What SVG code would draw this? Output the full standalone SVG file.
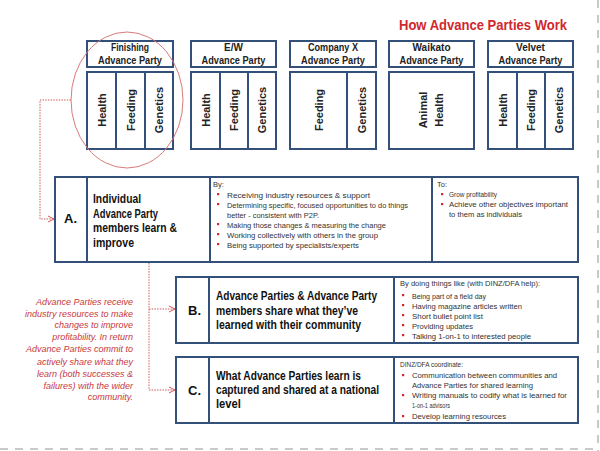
<svg xmlns="http://www.w3.org/2000/svg" width="600" height="451" viewBox="0 0 600 451">
<defs>
<style>
.box{fill:#fff;stroke:#33507a;stroke-width:2}
.div{stroke:#33507a;stroke-width:2}
.hdr{font-family:"Liberation Sans",Arial,sans-serif;font-weight:bold;font-size:10px;fill:#222;text-anchor:middle}
.col{font-family:"Liberation Sans",Arial,sans-serif;font-weight:bold;font-size:11px;fill:#222;text-anchor:middle}
.lbl{font-family:"Liberation Sans",Arial,sans-serif;font-weight:bold;font-size:13px;fill:#111}
.big{font-family:"Liberation Sans",Arial,sans-serif;font-weight:bold;font-size:13px;fill:#111}
.sm{font-family:"Liberation Sans",Arial,sans-serif;font-size:7.5px;fill:#333}
.bul{fill:#d0282e}
.note{font-family:"Liberation Sans",Arial,sans-serif;font-style:italic;font-size:9px;fill:#c8383c;text-anchor:end}
.con{fill:none;stroke:#d45a5a;stroke-width:1;stroke-dasharray:1.5 1.2}
.edge{fill:none;stroke:#b8b8b8;stroke-width:1.5;stroke-dasharray:8 7}
</style>
<marker id="arr" viewBox="0 0 8 8" refX="7" refY="4" markerWidth="8" markerHeight="8" markerUnits="userSpaceOnUse" orient="auto">
<path d="M1,1 L7,4 L1,7" fill="none" stroke="#d45a5a" stroke-width="1"/>
</marker>
</defs>
<rect width="600" height="451" fill="#fff"/>
<line class="edge" x1="598" y1="0" x2="598" y2="451"/>
<line class="edge" x1="0" y1="449" x2="598" y2="449"/>

<text x="483" y="30" text-anchor="middle" font-family="'Liberation Sans',Arial,sans-serif" font-weight="bold" font-size="15" fill="#d0282e" textLength="168" lengthAdjust="spacingAndGlyphs">How Advance Parties Work</text>

<g id="finishing">
<rect class="box" x="87" y="41" width="86" height="26"/>
<text class="hdr" x="130" y="51" textLength="38" lengthAdjust="spacingAndGlyphs">Finishing</text>
<text class="hdr" x="130" y="64" textLength="64" lengthAdjust="spacingAndGlyphs">Advance Party</text>
<rect class="box" x="87" y="72" width="86" height="77"/>
<line class="div" x1="116" y1="72" x2="116" y2="149"/>
<line class="div" x1="145" y1="72" x2="145" y2="149"/>
<text class="col" transform="translate(105.5,110) rotate(-90)">Health</text>
<text class="col" transform="translate(134.5,110) rotate(-90)">Feeding</text>
<text class="col" transform="translate(163,110) rotate(-90)">Genetics</text>
</g>

<g id="ew">
<rect class="box" x="191" y="41" width="85" height="26"/>
<text class="hdr" x="233.5" y="51">E/W</text>
<text class="hdr" x="233.5" y="64" textLength="64" lengthAdjust="spacingAndGlyphs">Advance Party</text>
<rect class="box" x="191" y="72" width="85" height="77"/>
<line class="div" x1="220" y1="72" x2="220" y2="149"/>
<line class="div" x1="248" y1="72" x2="248" y2="149"/>
<text class="col" transform="translate(209.5,110) rotate(-90)">Health</text>
<text class="col" transform="translate(238,110) rotate(-90)">Feeding</text>
<text class="col" transform="translate(266,110) rotate(-90)">Genetics</text>
</g>

<g id="companyx">
<rect class="box" x="290" y="41" width="86" height="26"/>
<text class="hdr" x="333" y="51" textLength="50" lengthAdjust="spacingAndGlyphs">Company X</text>
<text class="hdr" x="333" y="64" textLength="64" lengthAdjust="spacingAndGlyphs">Advance Party</text>
<rect class="box" x="290" y="72" width="86" height="77"/>
<line class="div" x1="347" y1="72" x2="347" y2="149"/>
<text class="col" transform="translate(322.5,110) rotate(-90)">Feeding</text>
<text class="col" transform="translate(365.5,110) rotate(-90)">Genetics</text>
</g>

<g id="waikato">
<rect class="box" x="389" y="41" width="85" height="26"/>
<text class="hdr" x="431.5" y="51">Waikato</text>
<text class="hdr" x="431.5" y="64" textLength="64" lengthAdjust="spacingAndGlyphs">Advance Party</text>
<rect class="box" x="389" y="72" width="85" height="77"/>
<text class="col" transform="translate(427,110) rotate(-90)">Animal</text>
<text class="col" transform="translate(443,110) rotate(-90)">Health</text>
</g>

<g id="velvet">
<rect class="box" x="488" y="41" width="85" height="26"/>
<text class="hdr" x="530.5" y="51">Velvet</text>
<text class="hdr" x="530.5" y="64" textLength="64" lengthAdjust="spacingAndGlyphs">Advance Party</text>
<rect class="box" x="488" y="72" width="85" height="77"/>
<line class="div" x1="517" y1="72" x2="517" y2="149"/>
<line class="div" x1="545" y1="72" x2="545" y2="149"/>
<text class="col" transform="translate(506.5,110) rotate(-90)">Health</text>
<text class="col" transform="translate(535,110) rotate(-90)">Feeding</text>
<text class="col" transform="translate(563,110) rotate(-90)">Genetics</text>
</g>

<g id="highlight">
<ellipse cx="127" cy="100" rx="56" ry="68" fill="none" stroke="#d87a7a" stroke-width="1"/>
</g>

<g id="connectors">
<path class="con" d="M71,100 H40 V219 H54" marker-end="url(#arr)"/>
<path class="con" d="M149,263 V390 H175" marker-end="url(#arr)"/>
<path class="con" d="M149,309 H175" marker-end="url(#arr)"/>
</g>

<g id="boxA">
<rect class="box" x="55" y="177" width="523" height="85"/>
<line class="div" x1="87" y1="177" x2="87" y2="262"/>
<line class="div" x1="210" y1="177" x2="210" y2="262"/>
<line class="div" x1="432" y1="177" x2="432" y2="262"/>
<text class="lbl" x="64" y="223">A.</text>
<text class="big" x="93" y="203" textLength="48" lengthAdjust="spacingAndGlyphs">Individual</text>
<text class="big" x="93" y="218" textLength="65" lengthAdjust="spacingAndGlyphs">Advance Party</text>
<text class="big" x="93" y="232" textLength="84" lengthAdjust="spacingAndGlyphs">members learn &amp;</text>
<text class="big" x="93" y="247" textLength="41" lengthAdjust="spacingAndGlyphs">improve</text>
<text class="sm" x="213" y="187">By:</text>
<g class="bul"><rect x="217" y="193" width="2.2" height="2.2"/><rect x="217" y="203" width="2.2" height="2.2"/><rect x="217" y="223" width="2.2" height="2.2"/><rect x="217" y="233" width="2.2" height="2.2"/><rect x="217" y="243" width="2.2" height="2.2"/></g>
<text class="sm" x="227" y="198" textLength="143" lengthAdjust="spacingAndGlyphs">Receiving industry resources &amp; support</text>
<text class="sm" x="227" y="208" textLength="181" lengthAdjust="spacingAndGlyphs">Determining specific, focused opportunities to do things</text>
<text class="sm" x="227" y="218" textLength="92" lengthAdjust="spacingAndGlyphs">better  - consistent with P2P.</text>
<text class="sm" x="227" y="228" textLength="159" lengthAdjust="spacingAndGlyphs">Making those changes &amp; measuring the change</text>
<text class="sm" x="227" y="238" textLength="151" lengthAdjust="spacingAndGlyphs">Working collectively with others in the group</text>
<text class="sm" x="227" y="248" textLength="132" lengthAdjust="spacingAndGlyphs">Being supported by specialists/experts</text>
<text class="sm" x="437" y="187">To:</text>
<g class="bul"><rect x="441" y="193" width="2.2" height="2.2"/><rect x="441" y="203" width="2.2" height="2.2"/></g>
<text class="sm" x="449" y="197" textLength="48" lengthAdjust="spacingAndGlyphs">Grow profitability</text>
<text class="sm" x="449" y="207" textLength="119" lengthAdjust="spacingAndGlyphs">Achieve other objectives important</text>
<text class="sm" x="449" y="217" textLength="73" lengthAdjust="spacingAndGlyphs">to them  as individuals</text>
</g>

<g id="boxB">
<rect class="box" x="176" y="277" width="402" height="66"/>
<line class="div" x1="209" y1="277" x2="209" y2="343"/>
<line class="div" x1="394" y1="277" x2="394" y2="343"/>
<text class="lbl" x="188" y="315">B.</text>
<text class="big" x="216" y="300" textLength="161" lengthAdjust="spacingAndGlyphs">Advance Parties &amp; Advance Party</text>
<text class="big" x="216" y="315" textLength="142" lengthAdjust="spacingAndGlyphs">members share what they’ve</text>
<text class="big" x="216" y="329" textLength="145" lengthAdjust="spacingAndGlyphs">learned with their community</text>
<text class="sm" x="400" y="286" textLength="140" lengthAdjust="spacingAndGlyphs">By doing things like (with DINZ/DFA help):</text>
<g class="bul"><rect x="402" y="294" width="2.2" height="2.2"/><rect x="402" y="304" width="2.2" height="2.2"/><rect x="402" y="314" width="2.2" height="2.2"/><rect x="402" y="324" width="2.2" height="2.2"/><rect x="402" y="334" width="2.2" height="2.2"/></g>
<text class="sm" x="412" y="298.5" textLength="74" lengthAdjust="spacingAndGlyphs">Being part of a field day</text>
<text class="sm" x="412" y="308.5" textLength="110" lengthAdjust="spacingAndGlyphs">Having magazine articles written</text>
<text class="sm" x="412" y="318.5" textLength="71" lengthAdjust="spacingAndGlyphs">Short bullet point list</text>
<text class="sm" x="412" y="328.5" textLength="61" lengthAdjust="spacingAndGlyphs">Providing updates</text>
<text class="sm" x="412" y="338.5" textLength="119" lengthAdjust="spacingAndGlyphs">Talking 1-on-1 to  interested people</text>
</g>

<g id="boxC">
<rect class="box" x="176" y="357" width="402" height="66"/>
<line class="div" x1="209" y1="357" x2="209" y2="423"/>
<line class="div" x1="394" y1="357" x2="394" y2="423"/>
<text class="lbl" x="188" y="395">C.</text>
<text class="big" x="216" y="380" textLength="145" lengthAdjust="spacingAndGlyphs">What Advance Parties learn is</text>
<text class="big" x="216" y="394" textLength="163" lengthAdjust="spacingAndGlyphs">captured and shared at a national</text>
<text class="big" x="216" y="408" textLength="25" lengthAdjust="spacingAndGlyphs">level</text>
<text class="sm" x="400" y="367" textLength="63" lengthAdjust="spacingAndGlyphs">DINZ/DFA coordinate:</text>
<g class="bul"><rect x="402" y="374" width="2.2" height="2.2"/><rect x="402" y="394" width="2.2" height="2.2"/><rect x="402" y="415" width="2.2" height="2.2"/></g>
<text class="sm" x="412" y="378" textLength="145" lengthAdjust="spacingAndGlyphs">Communication between  communities and</text>
<text class="sm" x="412" y="388" textLength="121" lengthAdjust="spacingAndGlyphs">Advance Parties for shared learning</text>
<text class="sm" x="412" y="398" textLength="155" lengthAdjust="spacingAndGlyphs">Writing  manuals  to codify what is learned for</text>
<text class="sm" x="412" y="408" textLength="38" lengthAdjust="spacingAndGlyphs">1-on-1 advisors</text>
<text class="sm" x="412" y="419" textLength="94" lengthAdjust="spacingAndGlyphs">Develop  learning resources</text>
</g>

<g id="note">
<text class="note" x="133" y="305">Advance Parties receive</text>
<text class="note" x="133" y="317">industry resources to make</text>
<text class="note" x="133" y="328">changes to improve</text>
<text class="note" x="133" y="340">profitability. In return</text>
<text class="note" x="133" y="352">Advance Parties commit to</text>
<text class="note" x="133" y="365">actively share what they</text>
<text class="note" x="133" y="377">learn (both successes &amp;</text>
<text class="note" x="133" y="389">failures) with the wider</text>
<text class="note" x="133" y="400">community.</text>
</g>
</svg>
